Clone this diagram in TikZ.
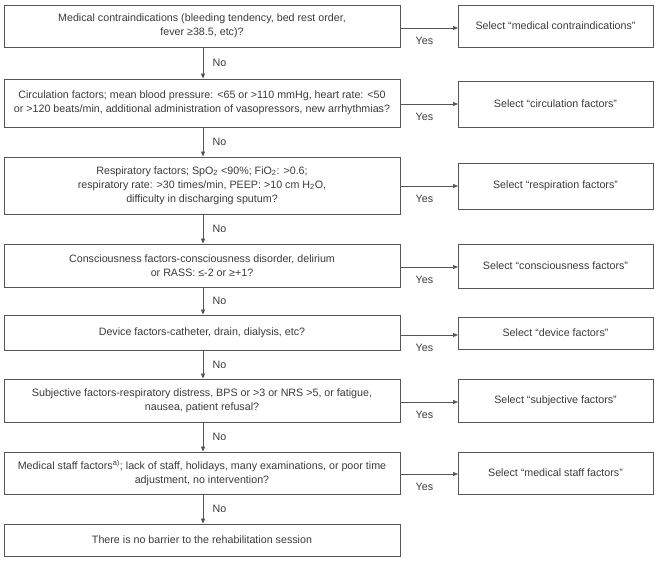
\documentclass[tikz,border=0pt]{standalone}
\usepackage{fontspec}
\setmainfont{Liberation Sans}
\usetikzlibrary{arrows.meta}
\definecolor{linec}{HTML}{555555}
\definecolor{textc}{HTML}{3A3A3A}
\begin{document}
\begin{tikzpicture}[x=1pt,y=-1pt,
  every node/.style={text=textc,font=\fontsize{10.7}{14}\selectfont},
  qbox/.style={draw=linec,line width=0.8pt,minimum width=396pt,align=center,inner sep=0pt},
  sbox/.style={draw=linec,line width=0.8pt,minimum width=195pt,align=center,inner sep=0pt},
  conn/.style={draw=linec,line width=0.7pt,-{Triangle[length=5pt,width=4pt]}},
  lbl/.style={font=\fontsize{10.7}{12}\selectfont}]
\useasboundingbox (0,0) rectangle (671,564);
% left column
\node[qbox,minimum height=42pt] (L1) at (202,26) {Medical contraindications (bleeding tendency, bed rest order,\\fever ≥38.5, etc)?};
\node[qbox,minimum height=48pt] (L2) at (202,103) {Circulation factors; mean blood pressure: <65 or >110 mmHg, heart rate: <50\\or >120 beats/min, additional administration of vasopressors, new arrhythmias?};
\node[qbox,minimum height=57pt] (L3) at (202,185.5) {Respiratory factors; SpO\textsubscript{2} <90\%; FiO\textsubscript{2}: >0.6;\\respiratory rate: >30 times/min, PEEP: >10 cm H\textsubscript{2}O,\\difficulty in discharging sputum?};
\node[qbox,minimum height=43pt] (L4) at (202,265.5) {Consciousness factors-consciousness disorder, delirium\\or RASS: ≤-2 or ≥+1?};
\node[qbox,minimum height=35pt] (L5) at (202,332.5) {Device factors-catheter, drain, dialysis, etc?};
\node[qbox,minimum height=43pt] (L6) at (202,400.5) {Subjective factors-respiratory distress, BPS or >3 or NRS >5, or fatigue,\\nausea, patient refusal?};
\node[qbox,minimum height=42pt] (L7) at (202,473) {Medical staff factors\textsuperscript{a)}; lack of staff, holidays, many examinations, or poor time\\adjustment, no intervention?};
\node[qbox,minimum height=32pt] (L8) at (202,540) {There is no barrier to the rehabilitation session};
% right column
\node[sbox,minimum height=42pt] (R1) at (555.5,26) {Select “medical contraindications”};
\node[sbox,minimum height=46pt] (R2) at (555.5,104) {Select “circulation factors”};
\node[sbox,minimum height=46pt] (R3) at (555.5,186) {Select “respiration factors”};
\node[sbox,minimum height=44pt] (R4) at (555.5,266) {Select “consciousness factors”};
\node[sbox,minimum height=32pt] (R5) at (555.5,333) {Select “device factors”};
\node[sbox,minimum height=43pt] (R6) at (555.5,400.5) {Select “subjective factors”};
\node[sbox,minimum height=42pt] (R7) at (555.5,473) {Select “medical staff factors”};
% yes arrows
\foreach \i/\yy in {1/28,2/104,3/186,4/267,5/335,6/402,7/474}{
  \coordinate (ys\i) at (400,\yy);
  \coordinate (ye\i) at (458,\yy);
  \draw[conn] (ys\i) -- (ye\i) node[lbl,pos=0.42,below=5pt] {Yes};
}
% no arrows
\foreach \a/\b in {1/2,2/3,3/4,4/5,5/6,6/7,7/8}{
  \draw[conn] (L\a.south -| 203,0) -- (L\b.north -| 203,0) node[lbl,midway,right=6pt] {No};
}
\end{tikzpicture}
\end{document}
